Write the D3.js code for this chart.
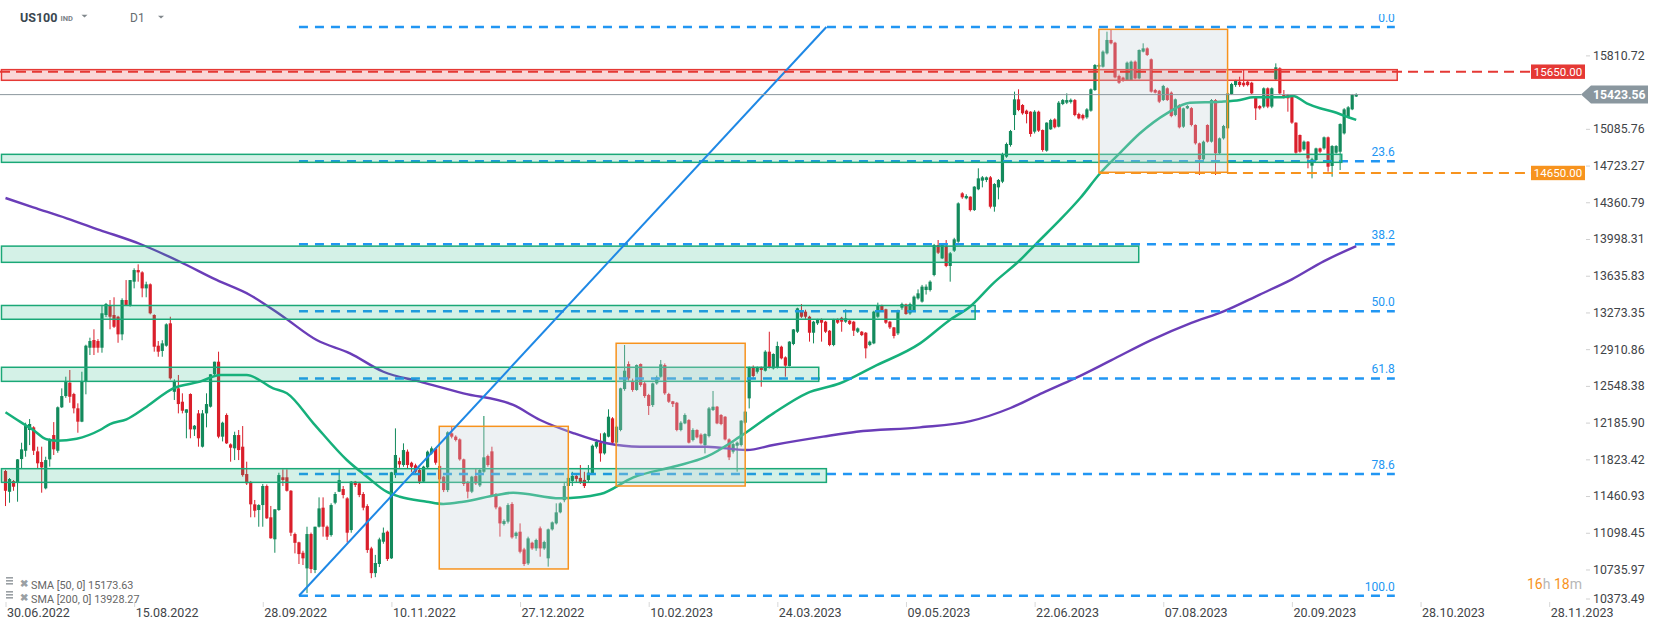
<!DOCTYPE html>
<html><head><meta charset="utf-8">
<script src="https://cdn.jsdelivr.net/npm/d3@7/dist/d3.min.js"></script>
<style>
html,body{margin:0;padding:0;background:#fff;}
svg{display:block;font-family:Roboto,"Noto Sans",sans-serif;}
</style></head>
<body><svg id="c" width="1653" height="630"></svg>
<script>
// ---------------- DATA ----------------
// daily candles [open, high, low, close], bar 0 = 30.06.2022
const candles = [
[11708,11720,11362,11513],[11503,11639,11395,11629],[11609,11619,11513,11553],[11596,11826,11405,11823],[11826,11987,11735,11922],
[11908,12185,11849,12152],[12113,12221,11964,12172],[12139,12150,11866,11908],[11902,11948,11735,11784],[11797,11948,11494,11744],
[11537,11849,11527,11816],[11823,12030,11751,12021],[12063,12191,11866,11922],[11908,12345,11888,12337],[12337,12524,12330,12448],
[12448,12639,12430,12589],[12580,12705,12382,12441],[12468,12480,12277,12327],[12327,12376,12086,12195],[12195,12688,12190,12589],
[12589,12955,12465,12945],[12925,13024,12853,12991],[13001,13107,12853,12925],[12991,13010,12876,12925],[12925,13347,12876,13265],
[13248,13367,13228,13357],[13340,13396,13107,13231],[13248,13423,13120,13132],[13231,13240,12974,13057],[13057,13413,12999,13396],
[13396,13593,13340,13347],[13347,13593,13330,13593],[13577,13709,13511,13692],[13692,13748,13577,13669],[13669,13680,13423,13511],
[13511,13577,13423,13551],[13551,13560,13255,13265],[13248,13255,12886,12935],[12945,12991,12836,12886],[12893,12999,12836,12968],
[12945,13166,12935,13156],[13166,13231,12610,12623],[12490,12613,12409,12589],[12524,12656,12277,12369],[12392,12475,12277,12303],
[12283,12317,12031,12317],[12468,12475,12031,12119],[12119,12162,12054,12155],[12277,12310,11948,12031],[11948,12310,11940,12277],
[12277,12475,12139,12369],[12343,12663,12335,12663],[12663,12787,12656,12787],[12787,12886,12031,12047],[12047,12195,12000,12185],
[12261,12277,11975,11981],[11971,11981,11800,11938],[11932,12096,11816,12063],[12063,12113,11816,11915],[11948,12152,11652,11668],
[11678,11800,11570,11586],[11594,11610,11251,11379],[11379,11422,11251,11316],[11323,11380,11158,11372],[11372,11580,11158,11560],
[11560,11575,11235,11241],[11251,11363,11040,11044],[11034,11330,10901,11330],[11323,11691,11315,11668],[11646,11725,11560,11619],
[11646,11725,11505,11513],[11513,11520,11066,11099],[11086,11100,10895,10999],[11004,11010,10790,10888],[10901,10921,10780,10846],
[10747,11158,10503,11086],[11086,11100,10700,10740],[10731,11158,10700,11158],[11158,11448,11150,11339],[11346,11448,11060,11158],
[11158,11170,11027,11060],[11076,11389,11060,11372],[11395,11500,11380,11481],[11504,11724,11500,11619],[11530,11560,11438,11471],
[11438,11450,11003,11099],[11125,11609,11099,11603],[11603,11610,11550,11570],[11586,11600,11450,11471],[11481,11500,11320,11346],
[11362,11380,10900,10928],[10944,10960,10650,10700],[10700,10880,10660,10800],[10790,11050,10760,11033],[11010,11150,10990,11099],
[11109,11120,10820,10839],[10846,11700,10840,11695],[11668,12129,11640,11866],[11806,11840,11740,11773],[11767,11981,11750,11915],
[11899,11920,11734,11767],[11790,11800,11700,11750],[11764,11780,11680,11701],[11718,11740,11580,11603],[11603,11760,11590,11751],
[11744,11910,11730,11899],[11882,11950,11870,11932],[11932,11940,11770,11790],[11757,11770,11600,11626],[11652,11660,11500,11520],
[11520,12100,11500,12090],[12080,12146,12030,12047],[12047,12060,12000,12014],[12020,12030,11810,11823],[11823,11830,11560,11580],
[11596,11610,11438,11504],[11504,11660,11490,11652],[11658,11734,11570,11586],[11566,11730,11550,11718],[11701,12251,11690,11843],
[11856,11870,11750,11767],[11902,11948,11460,11471],[11481,11490,11330,11349],[11349,11360,11060,11191],[11185,11230,11170,11214],
[11208,11390,11190,11372],[11382,11400,11040,11053],[11066,11110,11040,11099],[11109,11191,10895,10911],[10934,10950,10770,10790],
[10796,11060,10780,11043],[11000,11010,10930,10944],[10944,11040,10920,11027],[11142,11160,10862,10944],[10944,11020,10930,11007],
[10846,11140,10764,11132],[11132,11210,11120,11201],[11191,11389,11180,11300],[11300,11400,11290,11389],[11420,11600,11400,11560],
[11560,11680,11520,11640],[11610,11700,11560,11660],[11660,11680,11600,11630],[11640,11767,11580,11600],[11620,11700,11540,11560],
[11619,11767,11600,11691],[11685,11970,11680,11958],[11948,12020,11930,11997],[11988,12080,11800,11882],[11882,12090,11870,12080],
[12047,12317,12040,12244],[12228,12240,11980,11988],[11988,12160,11980,12146],[12113,12530,12100,12524],[12517,12952,12500,12698],
[12764,12790,12600,12623],[12590,12620,12490,12508],[12508,12760,12500,12754],[12764,12770,12540,12557],[12573,12590,12430,12448],
[12458,12470,12261,12350],[12359,12580,12340,12573],[12573,12650,12560,12633],[12639,12804,12630,12761],[12754,12770,12460,12475],
[12468,12480,12380,12392],[12396,12400,12340,12369],[12382,12390,12100,12113],[12113,12200,12100,12185],[12178,12277,12170,12261],
[12211,12220,11980,11988],[12014,12130,12000,12113],[12113,12120,12030,12040],[12067,12080,11970,11981],[11964,12080,11882,12073],
[12053,12340,12040,12326],[12310,12498,12300,12343],[12343,12350,12170,12178],[12261,12270,12160,12172],[12244,12250,12010,12020],
[12020,12030,11816,11843],[11899,11990,11880,11974],[11958,12000,11701,11988],[11964,12210,11950,12205],[12185,12300,12170,12294],
[12425,12740,12326,12731],[12731,12750,12630,12646],[12688,12740,12670,12731],[12731,12740,12540,12705],[12698,12900,12690,12886],
[12886,13083,12720,12731],[12721,12870,12710,12863],[12731,12985,12720,12942],[12935,12945,12810,12820],[12830,12840,12639,12748],
[12744,12990,12740,12985],[12962,13110,12950,13106],[13083,13320,13070,13314],[13297,13356,13220,13231],[13281,13300,13210,13231],
[13231,13240,12985,13073],[13073,13190,12968,13182],[13166,13210,13150,13199],[13205,13215,12985,13172],[13182,13190,13070,13083],
[13093,13100,12940,12952],[12952,13210,12940,13205],[13205,13215,13160,13172],[13220,13230,13083,13182],[13182,13304,13170,13215],
[13192,13200,13150,13160],[13182,13190,13041,13093],[13083,13125,13070,13116],[13083,13090,13040,13050],[13073,13080,12820,12919],
[12952,12995,12940,12985],[12968,13290,12960,13281],[13231,13370,13220,13337],[13337,13350,13280,13291],[13304,13310,13160,13172],
[13182,13190,13110,13126],[13126,13130,13017,13041],[13067,13300,13050,13297],[13320,13370,13300,13356],[13353,13360,13250,13258],
[13264,13370,13250,13356],[13297,13440,13290,13429],[13412,13501,13400,13462],[13380,13545,13370,13528],[13495,13550,13450,13528],
[13495,13590,13480,13577],[13643,13950,13630,13939],[13939,13988,13850,13863],[13807,13950,13800,13939],[13929,13988,13720,13732],
[13732,13870,13577,13857],[13883,14010,13870,13995],[13972,14360,13960,14350],[14449,14460,14395,14410],[14400,14440,14390,14423],
[14416,14420,14270,14284],[14284,14520,14275,14515],[14489,14696,14480,14597],[14574,14620,14508,14607],[14581,14615,14560,14607],
[14607,14620,14300,14317],[14317,14550,14268,14541],[14508,14590,14390,14581],[14564,14850,14550,14837],[14811,14950,14800,14936],
[14926,15075,14910,15064],[15222,15453,15074,15377],[15377,15476,15260,15272],[15321,15330,15225,15239],[15265,15275,15140,15232],
[15255,15260,15008,15035],[15058,15270,15040,15255],[15255,15265,15055,15068],[15074,15080,14860,14877],[14870,15150,14860,15147],
[15081,15185,15075,15173],[15179,15190,15090,15101],[15107,15360,15100,15344],[15331,15380,15320,15370],[15344,15436,15330,15370],
[15350,15385,15335,15372],[15370,15380,15210,15222],[15232,15245,15180,15189],[15222,15235,15170,15189],[15199,15290,15185,15278],
[15265,15485,15255,15476],[15469,15725,15460,15716],[15699,15730,15680,15716],[15699,15860,15690,15848],[15831,16045,15820,15963],
[15963,16068,15920,15930],[15936,15945,15585,15594],[15607,15620,15530,15541],[15591,15600,15550,15561],[15568,15750,15560,15739],
[15568,15760,15560,15749],[15749,15760,15575,15584],[15584,15870,15575,15864],[15848,15930,15840,15880],[15880,15890,15805,15815],
[15772,15780,15443,15453],[15469,15480,15435,15443],[15462,15470,15340,15354],[15370,15520,15360,15509],[15486,15495,15360,15370],
[15443,15455,15200,15212],[15222,15385,15210,15377],[15321,15330,15090,15101],[15107,15295,15095,15288],[15288,15320,15280,15311],
[15290,15300,15110,15124],[15124,15130,14930,14943],[14943,14950,14630,14785],[14785,14970,14770,14959],[15124,15130,14950,14959],
[14959,15380,14950,15370],[15370,15380,14630,14844],[14844,15000,14830,14992],[14992,15125,14980,15114],[15091,15445,15080,15436],
[15430,15540,15420,15528],[15518,15570,15500,15558],[15551,15600,15500,15518],[15541,15667,15500,15515],[15551,15560,15505,15518],
[15541,15550,15425,15436],[15397,15400,15173,15288],[15311,15320,15275,15288],[15305,15495,15290,15486],[15486,15495,15290,15305],
[15305,15495,15290,15486],[15574,15732,15560,15693],[15683,15693,15425,15436],[15420,15469,15385,15397],[15420,15430,15255,15387],
[15403,15410,15135,15147],[15147,15150,14840,14850],[15025,15030,14850,14860],[14883,14970,14870,14959],[14959,14965,14696,14795],
[14722,14800,14597,14785],[14778,14900,14770,14893],[14893,14900,14845,14860],[14893,15010,14880,15002],[15002,15010,14663,14712],
[14719,14925,14613,14916],[14850,14925,14840,14916],[14860,15140,14679,15133],[15041,15290,15030,15278],[15199,15310,15190,15298],
[15278,15430,15270,15420],[15405,15436,15400,15424]
];
// moving averages: [bar, value]
const sma50 = [[0,12288],[3.6,12195],[6.9,12113],[10.2,12021],[12.7,12007],[17.7,12027],[23.5,12113],[26,12172],[30.1,12218],[35.1,12343],[41.7,12524],[48.4,12590],[53.4,12656],[60,12656],[66.6,12524],[70,12475],[76.6,12179],[84.9,11817],[89.9,11652],[94.8,11504],[98.1,11454],[104.8,11405],[108.9,11382],[113.9,11405],[122.2,11471],[126.3,11494],[138,11438],[148,11481],[156.2,11645],[166.1,11750],[174.4,11849],[182.7,12047],[191,12277],[199.3,12475],[207.6,12574],[215.9,12737],[227.5,12968],[234.9,13199],[239.9,13330],[245.7,13561],[252.4,13791],[256.5,13956],[262.3,14186],[267.3,14400],[272.3,14647],[277.2,14846],[282.2,15042],[288.9,15239],[294.6,15344],[302.1,15354],[307.1,15371],[310.4,15397],[317,15397],[320.3,15410],[323.7,15338],[327,15289],[330.3,15255],[333.6,15206],[336,15174]];
const sma200 = [[0,14403],[6.9,14311],[15.2,14203],[23.5,14087],[33.5,13949],[43.4,13774],[52.5,13594],[60.8,13446],[69.1,13231],[77.4,13001],[85.7,12870],[94,12688],[103.1,12590],[113.9,12475],[126.3,12360],[133,12212],[141.2,12083],[149.6,11982],[157.8,11948],[174.4,11948],[184.4,11915],[191,11965],[203.4,12047],[211.7,12096],[227.5,12139],[240,12200],[250,12330],[258,12480],[266,12622],[275,12800],[285,13000],[295,13170],[303,13284],[312,13450],[320,13600],[328,13780],[336,13928]];
const sma50Last = "15173.63", sma200Last = "13928.27";

const xTickBars = [0,32,64,96,128,160,192,224,256,288,320,352,384];
const xTickLabels = ["30.06.2022","15.08.2022","28.09.2022","10.11.2022","27.12.2022","10.02.2023","24.03.2023","09.05.2023","22.06.2023","07.08.2023","20.09.2023","28.10.2023","28.11.2023"];
const yTicks = [15810.72,15085.76,14723.27,14360.79,13998.31,13635.83,13273.35,12910.86,12548.38,12185.90,11823.42,11460.93,11098.45,10735.97,10373.49];

// drawings
const fibHigh = 16091, fibLow = 10477, fibStartBar = 73, fibEndBar = 345.6;
const fibLevels = [0, 23.6, 38.2, 50, 61.8, 78.6, 100];
const trendStart = [73, 10477], trendEnd = [204.2, 16091];
const greenZones = [[14834,14755,332.4],[13928,13768,281.9],[13342,13206,241.2],[12732,12593,202.3],[11731,11596,204.2]];
const redZone = [15670,15565,346.2];
const boxes = [[107.9,140,12149,10741],[151.9,184,12969,11560],[272,304,16068,14657]];
const resistance = 15650, support = 14650, supportStartBar = 272;
const lastPrice = 15423.56;

// ---------------- CHART ----------------
const svg = d3.select("#c");
const x = d3.scaleLinear().domain([0, 384]).range([5.5, 5.5 + 4.02*384]);
const y = d3.scaleLinear().domain([10373.49, 15810.72]).range([606.2, 55.4]);

const defs = svg.append("defs");
defs.append("clipPath").attr("id","plot").append("rect").attr("x",0).attr("y",14).attr("width",1500).attr("height",589);

const UP = "#138a5c", DN = "#da1f2b";
const plot = svg.append("g").attr("clip-path","url(#plot)");

// candles
const cg = plot.append("g");
candles.forEach((d,i)=>{
  const [o,h,l,c] = d; const col = c>=o?UP:DN; const cx = x(i);
  cg.append("line").attr("x1",cx).attr("x2",cx).attr("y1",y(h)).attr("y2",y(l)).attr("stroke",col).attr("stroke-width",1);
  const top = Math.min(y(o),y(c)), hh = Math.max(1.2, Math.abs(y(o)-y(c)));
  cg.append("rect").attr("x",cx-1.6).attr("y",top).attr("width",3.2).attr("height",hh).attr("fill",col);
});

// SMAs
const ln = d3.line().x(d=>x(d[0])).y(d=>y(d[1])).curve(d3.curveMonotoneX);
plot.append("path").attr("d",ln(sma200)).attr("fill","none").attr("stroke","#6a3db8").attr("stroke-width",2.4);
plot.append("path").attr("d",ln(sma50)).attr("fill","none").attr("stroke","#16b07b").attr("stroke-width",2.5);

// fib lines
const fibG = plot.append("g");
fibLevels.forEach(lv=>{
  const p = fibHigh - (fibHigh-fibLow)*lv/100;
  fibG.append("line").attr("x1",x(fibStartBar)).attr("x2",x(fibEndBar)).attr("y1",y(p)).attr("y2",y(p))
    .attr("stroke","#2196f3").attr("stroke-width",2.5).attr("stroke-dasharray","9,7");
  fibG.append("text").attr("x",x(fibEndBar)).attr("y",y(p)-5).attr("text-anchor","end")
    .attr("font-size",12).attr("fill","#2196f3").text(lv.toFixed(1));
});

// zones
greenZones.forEach(z=>{
  plot.append("rect").attr("x",x(-1)).attr("y",y(z[0])).attr("width",x(z[2])-x(-1)).attr("height",y(z[1])-y(z[0]))
   .attr("fill","rgba(26,183,127,0.19)").attr("stroke","#1aa877").attr("stroke-width",1.5);
});
plot.append("rect").attr("x",x(-1)).attr("y",y(redZone[0])).attr("width",x(redZone[2])-x(-1)).attr("height",y(redZone[1])-y(redZone[0]))
   .attr("fill","rgba(229,57,53,0.2)").attr("stroke","#e53935").attr("stroke-width",1.5);
boxes.forEach(b=>{
  plot.append("rect").attr("x",x(b[0])).attr("y",y(b[2])).attr("width",x(b[1])-x(b[0])).attr("height",y(b[3])-y(b[2]))
   .attr("fill","rgba(196,208,214,0.3)").attr("stroke","#f7931e").attr("stroke-width",1.5);
});

// trendline
plot.append("line").attr("x1",x(trendStart[0])).attr("y1",y(trendStart[1])).attr("x2",x(trendEnd[0])).attr("y2",y(trendEnd[1]))
  .attr("stroke","#1e88e5").attr("stroke-width",2);

// horizontal lines
svg.append("line").attr("x1",0).attr("x2",1581).attr("y1",y(lastPrice)).attr("y2",y(lastPrice)).attr("stroke","#8c979e").attr("stroke-width",1);
svg.append("line").attr("x1",0).attr("x2",1531).attr("y1",y(resistance)).attr("y2",y(resistance)).attr("stroke","#e53935").attr("stroke-width",2).attr("stroke-dasharray","10,6");
svg.append("line").attr("x1",x(supportStartBar)).attr("x2",1531).attr("y1",y(support)).attr("y2",y(support)).attr("stroke","#f7931e").attr("stroke-width",2).attr("stroke-dasharray","10,6");

// price labels
function tag(v,col){
  const yy = y(v);
  svg.append("rect").attr("x",1531).attr("y",yy-7.2).attr("width",54).attr("height",14.4).attr("fill",col);
  svg.append("text").attr("x",1558).attr("y",yy+4).attr("text-anchor","middle").attr("font-size",11.5).attr("fill","#fff").text(v.toFixed(2));
}
tag(resistance,"#e53935"); tag(support,"#f7931e");
{
  const yy = y(lastPrice);
  svg.append("path").attr("d",`M1581,${yy} L1591,${yy-9} L1648,${yy-9} L1648,${yy+9} L1591,${yy+9} Z`).attr("fill","#8a979f");
  svg.append("text").attr("x",1593).attr("y",yy+4.6).attr("font-size",12.2).attr("font-weight",700).attr("fill","#fff").text(lastPrice.toFixed(2));
}

// y axis
const yAxis = svg.append("g").attr("transform","translate(1586,0)")
  .call(d3.axisRight(y).tickValues(yTicks).tickSize(4).tickPadding(3).tickFormat(d3.format(".2f")));
yAxis.select(".domain").remove();
yAxis.selectAll(".tick line").attr("stroke","#d0d0d0");
yAxis.selectAll(".tick text").attr("font-size",12.3).attr("fill","#3f4448").attr("font-family","Roboto");
yAxis.selectAll(".tick").filter(d=>y(d)>600).attr("transform","translate(0,599)");

// x axis
const xAxis = svg.append("g").attr("transform","translate(0,602)")
  .call(d3.axisBottom(x).tickValues(xTickBars).tickSize(5).tickPadding(1).tickFormat((d,i)=>xTickLabels[i]));
xAxis.select(".domain").remove();
xAxis.selectAll(".tick line").attr("stroke","#d8d8d8");
xAxis.selectAll(".tick text").attr("text-anchor","start").attr("dx",1).attr("font-size",12.5).attr("fill","#3f4448").attr("font-family","Roboto");

// header
svg.append("text").attr("x",20).attr("y",22.3).attr("font-size",12.5).attr("font-weight",700).attr("fill","#3a4750").text("US100");
svg.append("text").attr("x",60.5).attr("y",20.7).attr("font-size",7.5).attr("font-weight",700).attr("fill","#7a8288").text("IND");
svg.append("path").attr("d","M81.5,14.8 L87.5,14.8 L84.5,17.5 Z").attr("fill","#80878c");
svg.append("text").attr("x",130).attr("y",22).attr("font-size",12).attr("fill","#666c70").text("D1");
svg.append("path").attr("d","M158,15.8 L164,15.8 L161,18.5 Z").attr("fill","#80878c");

// legend
[[sma50Last,"SMA [50, 0] "],[sma200Last,"SMA [200, 0] "]].forEach((d,k)=>{
  const yy = 588 + k*14;
  const g = svg.append("g");
  g.append("rect").attr("x",6).attr("y",yy-11).attr("width",7).attr("height",1.6).attr("fill","#9aa0a4");
  g.append("rect").attr("x",6).attr("y",yy-8).attr("width",7).attr("height",1.6).attr("fill","#9aa0a4");
  g.append("rect").attr("x",6).attr("y",yy-5).attr("width",7).attr("height",1.6).attr("fill","#9aa0a4");
  g.append("text").attr("x",20).attr("y",yy-1).attr("font-size",10).attr("font-weight",700).attr("fill","#9aa0a4").text("✖");
  g.append("text").attr("x",31).attr("y",yy+1).attr("font-size",10.8).attr("fill","#666").text(d[1]+d[0]);
});

// countdown
const cd = svg.append("text").attr("x",1527).attr("y",589).attr("font-size",14);
cd.append("tspan").attr("fill","#f7931e").text("16");
cd.append("tspan").attr("fill","#b7b7b7").text("h ");
cd.append("tspan").attr("fill","#f7931e").text("18");
cd.append("tspan").attr("fill","#b7b7b7").text("m");
</script>
</body></html>
